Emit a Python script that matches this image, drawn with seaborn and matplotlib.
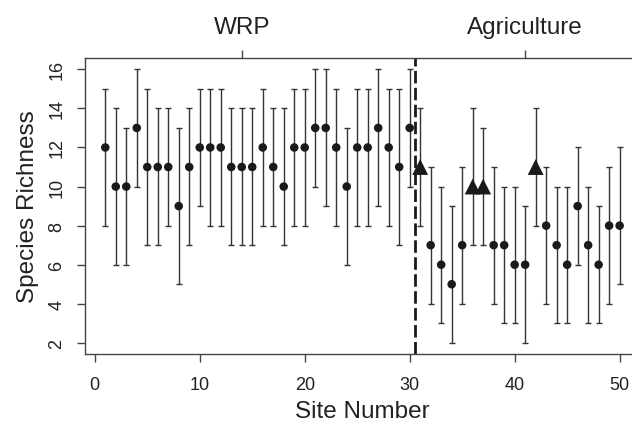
import numpy as np
import pandas as pd
import matplotlib
matplotlib.use("Agg")
import matplotlib.pyplot as plt
import seaborn as sns

# site numbers and estimated species richness with interval bounds
sites = list(range(1, 51))
richness = [12, 10, 10, 13, 11, 11, 11, 9, 11, 12,
            12, 12, 11, 11, 11, 12, 11, 10, 12, 12,
            13, 13, 12, 10, 12, 12, 13, 12, 11, 13,
            11, 7, 6, 5, 7, 10, 10, 7, 7, 6,
            6, 11, 8, 7, 6, 9, 7, 6, 8, 8]
upper = [15, 14, 13, 16, 15, 14, 14, 13, 14, 15,
         15, 15, 14, 14, 14, 15, 14, 14, 15, 15,
         16, 16, 15, 13, 15, 15, 16, 15, 15, 16,
         14, 11, 10, 9, 11, 14, 13, 11, 10, 10,
         9, 14, 11, 10, 10, 12, 10, 9, 11, 12]
lower = [8, 6, 6, 10, 7, 7, 8, 5, 7, 9,
         8, 8, 7, 7, 7, 8, 8, 7, 8, 8,
         10, 9, 8, 6, 8, 8, 9, 8, 7, 10,
         8, 4, 3, 2, 4, 7, 7, 4, 3, 3,
         2, 8, 4, 3, 3, 6, 3, 3, 4, 5]
triangle_sites = [31, 36, 37, 42]
boundary = 30.5
top_ticks = [14, 41]
top_labels = ["WRP", "Agriculture"]

df = pd.DataFrame({"site": sites, "richness": richness,
                   "upper": upper, "lower": lower})
df["kind"] = np.where(df["site"].isin(triangle_sites), "tri", "circ")

sns.set_theme(style="ticks")
plt.rcParams["font.family"] = ["Liberation Sans", "DejaVu Sans"]

fig = plt.figure(figsize=(6.32, 4.27), dpi=100)
ax = fig.add_axes([0.134, 0.169, 0.879, 0.692])

yerr = np.vstack([df["richness"] - df["lower"], df["upper"] - df["richness"]])
ax.errorbar(df["site"], df["richness"], yerr=yerr, fmt="none",
            ecolor="#333333", elinewidth=1.0, capsize=2.5, capthick=1.0, zorder=2)

sns.scatterplot(data=df, x="site", y="richness", style="kind",
                markers={"circ": "o", "tri": "^"}, size="kind",
                sizes={"circ": 38, "tri": 130}, color="#1a1a1a",
                edgecolor="none", legend=False, ax=ax, zorder=3)

ax.axvline(boundary, color="#1a1a1a", lw=2.0, linestyle=(0, (4.5, 1.6)), zorder=1)

ax.set_xlim(-0.96, 51.96)
ax.set_ylim(1.44, 16.56)
ax.set_xticks([0, 10, 20, 30, 40, 50])
ax.set_yticks([2, 4, 6, 8, 10, 12, 14, 16])
ax.set_xlabel("Site Number", fontsize=17.5, color="#222222", labelpad=5)
ax.set_ylabel("Species Richness", fontsize=17.5, color="#222222", labelpad=7)
ax.tick_params(axis="both", labelsize=13, length=5.8, width=1.0,
               color="#444444", labelcolor="#222222")
ax.tick_params(axis="x", pad=10)
ax.tick_params(axis="y", pad=8)
for lab in ax.get_yticklabels():
    lab.set_rotation(90)
    lab.set_va("center")

for sp in ax.spines.values():
    sp.set_visible(True)
    sp.set_color("#444444")
    sp.set_linewidth(1.0)

top = ax.secondary_xaxis("top")
top.set_xticks(top_ticks)
top.set_xticklabels(top_labels)
top.tick_params(labelsize=17.5, length=5.8, width=1.0, color="#444444",
                labelcolor="#222222", pad=9)
top.spines["top"].set_visible(False)

fig.savefig("out.png", dpi=100)
